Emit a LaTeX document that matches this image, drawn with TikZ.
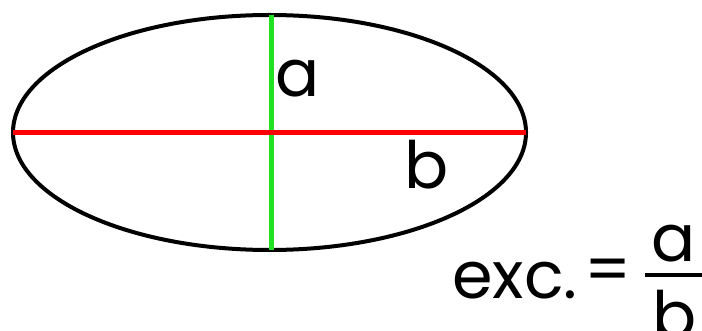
\documentclass[tikz,border=0pt]{standalone}
\usepackage{fontspec}
\setmainfont{Poppins}
\usetikzlibrary{shapes.geometric,positioning}
\definecolor{axisred}{HTML}{FF0000}
\definecolor{axisgreen}{HTML}{22E022}

\tikzset{
  biglabel/.style={inner sep=0pt,font=\fontsize{49}{50}\selectfont}
}

\begin{document}
\begin{tikzpicture}[x=0.75pt,y=-0.75pt]
\useasboundingbox (0,0) rectangle (702,331);
% the ellipse and its two axes
\node[ellipse,draw,line width=3pt,inner sep=0pt,outer sep=0pt,
  minimum width=384.75pt,minimum height=176.25pt] (oval) at (269.5,132.5) {};
\draw[axisgreen,line width=3.4pt] ([xshift=1.5pt]oval.north) -- ([xshift=1.5pt]oval.south);
\draw[axisred,line width=3.75pt] (oval.west) -- (oval.east);
\node[biglabel] (alabel) at (298,79) {a};
\node[biglabel] (blabel) at (427,165) {b};
% the formula
\node[biglabel,anchor=base west] (exc) at (452,298) {exc.};
\node[biglabel] (equals) at (608.5,275.5) {=};
\coordinate (barleft) at (645,275);
\coordinate (barright) at (704,275);
\draw[line width=3pt] (barleft) -- (barright);
\node[biglabel] (num) at (673.5,243.5) {a};
\node[biglabel,anchor=north] (den) at (675,290) {b};
\end{tikzpicture}
\end{document}
